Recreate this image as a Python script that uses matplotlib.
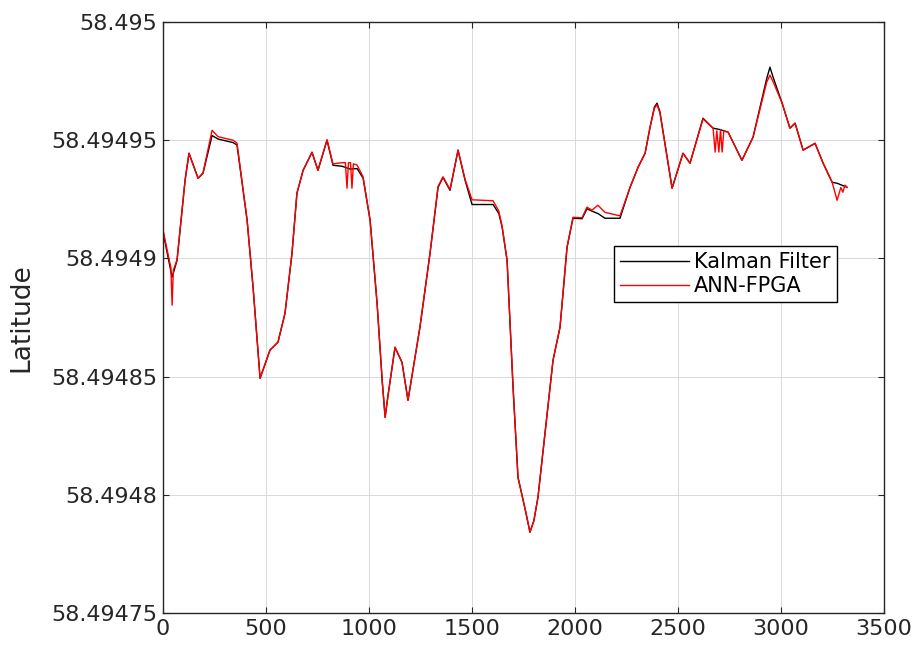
import matplotlib
matplotlib.use('Agg')
from matplotlib import pyplot as plt
from matplotlib.ticker import FuncFormatter

# Kalman filter track (sample index, latitude)
kalman_x = [0, 44, 68, 107, 126, 170, 194, 238, 267, 340, 359, 408, 437, 471,
            490, 519, 558, 592, 626, 650, 680, 723, 752, 796, 825, 869, 908, 942,
            971, 1005, 1039, 1064, 1078, 1092, 1126, 1160, 1189, 1247, 1296, 1335,
            1359, 1393, 1432, 1466, 1500, 1602, 1630, 1646, 1670, 1699, 1723,
            1760, 1781, 1800, 1820, 1893,
            1927, 1961, 1990, 2034, 2058, 2082, 2111, 2145, 2218, 2267, 2306,
            2340, 2364, 2385, 2398, 2412, 2471, 2524, 2558, 2621, 2670, 2704,
            2743, 2810, 2864, 2930, 2946, 2960, 3005, 3043, 3068, 3107, 3165,
            3204, 3248, 3272, 3320]
kalman_lat = [58.4949111, 58.4948920, 58.4948992, 58.4949331, 58.4949445,
              58.4949339, 58.4949360, 58.4949520, 58.4949505, 58.4949490,
              58.4949480, 58.4949162, 58.4948878, 58.4948493, 58.4948540,
              58.4948612, 58.4948646, 58.4948768, 58.4949022, 58.4949276,
              58.4949373, 58.4949449, 58.4949373, 58.4949500, 58.4949394,
              58.4949390, 58.4949378, 58.4949380, 58.4949340, 58.4949162,
              58.4948810, 58.4948480, 58.4948328, 58.4948420, 58.4948624,
              58.4948560, 58.4948400, 58.4948709, 58.4949022, 58.4949301,
              58.4949343, 58.4949288, 58.4949458, 58.4949331, 58.4949228,
              58.4949228, 58.4949190, 58.4949132, 58.4948992, 58.4948455,
              58.4948074, 58.4947930, 58.4947842, 58.4947890, 58.4947990,
              58.4948569, 58.4948709, 58.4949047, 58.4949170, 58.4949168,
              58.4949210, 58.4949200, 58.4949190, 58.4949170, 58.4949170,
              58.4949301, 58.4949386, 58.4949445, 58.4949555, 58.4949640,
              58.4949657, 58.4949620, 58.4949297, 58.4949445, 58.4949403,
              58.4949593, 58.4949551, 58.4949545, 58.4949534, 58.4949415,
              58.4949513, 58.4949760, 58.4949809, 58.4949770, 58.4949657,
              58.4949551, 58.4949572, 58.4949458, 58.4949487, 58.4949403,
              58.4949322, 58.4949318, 58.4949301]

# ANN-FPGA estimate (same track with its own glitches)
ann_x = [0, 38, 44, 50, 68, 107, 126, 170, 194, 238, 267, 340, 359, 408, 437,
         471, 490, 519, 558, 592, 626, 650, 680, 723, 752, 796, 825, 869, 885,
         893, 900, 910, 917, 924, 942, 971, 1005, 1039, 1064, 1078, 1092, 1126,
         1160, 1189, 1247, 1296, 1335, 1359, 1393, 1432, 1466, 1500, 1602,
         1630, 1646, 1670, 1699, 1723, 1760, 1781, 1800, 1820, 1893, 1927,
         1961, 1990, 2034, 2058, 2082, 2111, 2145, 2218, 2267, 2306, 2340,
         2364, 2385, 2398, 2412, 2471, 2524, 2558, 2621, 2670, 2680, 2688,
         2698, 2706, 2714, 2722, 2743, 2810, 2864, 2930, 2946, 2960, 3005,
         3043, 3068, 3107, 3165, 3204, 3248, 3272, 3290, 3300, 3310, 3320]
ann_lat = [58.4949120, 58.4948960, 58.4948802, 58.4948950, 58.4948995,
           58.4949331, 58.4949445, 58.4949339, 58.4949362, 58.4949542,
           58.4949515, 58.4949500, 58.4949488, 58.4949162, 58.4948878,
           58.4948493, 58.4948540, 58.4948612, 58.4948646, 58.4948768,
           58.4949022, 58.4949276, 58.4949373, 58.4949449, 58.4949373,
           58.4949502, 58.4949400, 58.4949405, 58.4949405, 58.4949297,
           58.4949405, 58.4949405, 58.4949297, 58.4949400, 58.4949395,
           58.4949345, 58.4949162, 58.4948810, 58.4948480, 58.4948328,
           58.4948420, 58.4948624, 58.4948560, 58.4948400, 58.4948709,
           58.4949022, 58.4949305, 58.4949345, 58.4949292, 58.4949458,
           58.4949335, 58.4949248, 58.4949244, 58.4949200, 58.4949135,
           58.4948992, 58.4948455, 58.4948074, 58.4947930, 58.4947842,
           58.4947890, 58.4947990, 58.4948569, 58.4948709, 58.4949047,
           58.4949174, 58.4949172, 58.4949217, 58.4949204, 58.4949225,
           58.4949195, 58.4949180, 58.4949301, 58.4949386, 58.4949445,
           58.4949555, 58.4949635, 58.4949650, 58.4949615, 58.4949297,
           58.4949445, 58.4949403, 58.4949590, 58.4949551, 58.4949450,
           58.4949540, 58.4949450, 58.4949545, 58.4949450, 58.4949540,
           58.4949534, 58.4949415, 58.4949513, 58.4949745, 58.4949775,
           58.4949750, 58.4949657, 58.4949551, 58.4949572, 58.4949458,
           58.4949487, 58.4949403, 58.4949322, 58.4949246, 58.4949300,
           58.4949280, 58.4949310, 58.4949300]

x_ticks = [0, 500, 1000, 1500, 2000, 2500, 3000, 3500]
lat_ticks = [58.49475, 58.4948, 58.49485, 58.4949, 58.49495, 58.495]

fig = plt.figure(figsize=(9.17, 6.48), dpi=100)
ax = fig.add_axes([0.1778, 0.054, 0.7863, 0.912])

ax.plot(kalman_x, kalman_lat, color='black', lw=1.0, label='Kalman Filter')
ax.plot(ann_x, ann_lat, color='#ff0000', lw=1.0, label='ANN-FPGA')

ax.set_xlim(0, 3500)
ax.set_ylim(58.49475, 58.495)
ax.set_xticks(x_ticks)
ax.set_yticks(lat_ticks)
ax.yaxis.set_major_formatter(FuncFormatter(lambda v, p: '{:.8g}'.format(v)))

ax.grid(True, color='#d9d9d9', lw=0.7)
ax.set_axisbelow(True)
ax.tick_params(direction='in', length=4, top=True, right=True,
               labelsize=16, labelcolor='#262626', colors='#262626', pad=4)
for s in ax.spines.values():
    s.set_color('#262626')
    s.set_linewidth(1.0)

ax.set_ylabel('Latitude', fontsize=19, color='#262626', labelpad=12)

leg = ax.legend(loc='upper left', bbox_to_anchor=(0.626, 0.621),
                borderaxespad=0, fancybox=False, edgecolor='black',
                fontsize=15, handlelength=3.3, handletextpad=0.25,
                labelspacing=0.2, borderpad=0.28, framealpha=1)
leg.get_frame().set_linewidth(1.0)

fig.savefig('out.png', dpi=100)
